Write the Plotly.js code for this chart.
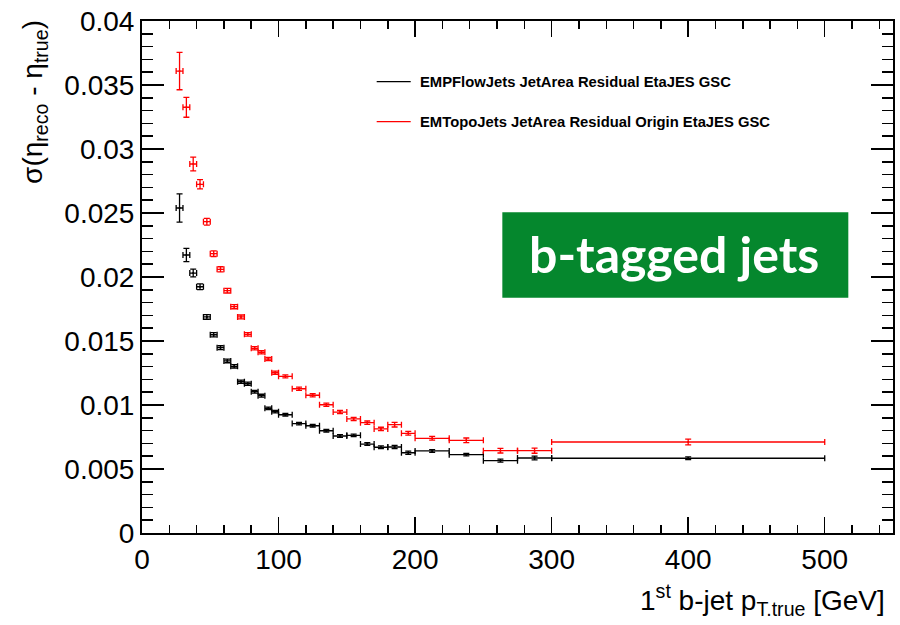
<!DOCTYPE html>
<html>
<head>
<meta charset="utf-8">
<script src="https://cdn.plot.ly/plotly-3.0.1.min.js"></script>
<style>
  html, body { margin: 0; padding: 0; background: #fff; }
  #chart { width: 900px; height: 625px; }
</style>
</head>
<body>
<div id="chart"></div>
<script>
// pT bin edges of the leading b-jet [GeV]
const ptBinEdges = [25, 30, 35, 40, 45, 50, 55, 60, 65, 70, 75, 80, 85, 90, 95, 100,
                    110, 120, 130, 140, 150, 160, 170, 180, 190, 200,
                    225, 250, 275, 300, 500];

// Eta resolution, EMPFlow jets
const pflowSigma = [0.02539, 0.02172, 0.02031, 0.01924, 0.01688, 0.01549, 0.01448, 0.01344,
                    0.01302, 0.01182, 0.01166, 0.01104, 0.01073, 0.00974, 0.00948,
                    0.00924, 0.00855, 0.00838, 0.00799, 0.00758, 0.00763, 0.00695,
                    0.00670, 0.00672, 0.00627,
                    0.00641, 0.00612, 0.00565, 0.00586,
                    0.00584];
const pflowErr = [0.00110, 0.00052, 0.00030, 0.00022, 0.00018, 0.00016, 0.00015, 0.00014,
                  0.00013, 0.00012, 0.00012, 0.00011, 0.00011, 0.00010, 0.00010,
                  0.00010, 0.00010, 0.00010, 0.00010, 0.00010, 0.00010, 0.00010,
                  0.00010, 0.00012, 0.00012,
                  0.00010, 0.00010, 0.00012, 0.00015,
                  0.00010];

// Eta resolution, EMTopo jets
const topoSigma = [0.03609, 0.03326, 0.02883, 0.02724, 0.02432, 0.02182, 0.02060, 0.01893,
                   0.01768, 0.01688, 0.01552, 0.01443, 0.01412, 0.01359, 0.01252,
                   0.01224, 0.01127, 0.01076, 0.01002, 0.00945, 0.00891, 0.00862,
                   0.00813, 0.00846, 0.00779,
                   0.00740, 0.00724, 0.00643, 0.00643,
                   0.00711];
const topoErr = [0.00146, 0.00078, 0.00054, 0.00036, 0.00026, 0.00022, 0.00020, 0.00018,
                 0.00016, 0.00015, 0.00014, 0.00013, 0.00013, 0.00012, 0.00012,
                 0.00012, 0.00012, 0.00012, 0.00012, 0.00012, 0.00013, 0.00013,
                 0.00013, 0.00018, 0.00015,
                 0.00015, 0.00018, 0.00018, 0.00020,
                 0.00022];

const seriesNames = ['EMPFlowJets JetArea Residual EtaJES GSC',
                     'EMTopoJets JetArea Residual Origin EtaJES GSC'];
const seriesColors = ['#000000', '#ff0000'];

const binCenters = [], binHalfWidths = [];
for (let i = 0; i < ptBinEdges.length - 1; i++) {
  binCenters.push((ptBinEdges[i] + ptBinEdges[i + 1]) / 2);
  binHalfWidths.push((ptBinEdges[i + 1] - ptBinEdges[i]) / 2);
}

function profileTrace(y, err, name, color) {
  return {
    type: 'scatter', mode: 'markers', name: name,
    x: binCenters, y: y,
    marker: { color: color, size: 2 },
    error_x: { type: 'data', array: binHalfWidths, visible: true, color: color, thickness: 1.3, width: 3 },
    error_y: { type: 'data', array: err, visible: true, color: color, thickness: 1.3, width: 3 },
    showlegend: false, hoverinfo: 'x+y'
  };
}

const data = [
  profileTrace(pflowSigma, pflowErr, seriesNames[0], seriesColors[0]),
  profileTrace(topoSigma, topoErr, seriesNames[1], seriesColors[1])
];

const FONT = 'Liberation Sans, Arial, Helvetica, sans-serif';

// hand-placed legend in paper coordinates
const legendX0 = 0.3125, legendX1 = 0.3578, legendTextX = 0.3679;
const legendY = [0.8814, 0.8033];

const shapes = [];
const annotations = [];
seriesNames.forEach((nm, i) => {
  shapes.push({ type: 'line', xref: 'paper', yref: 'paper', x0: legendX0, x1: legendX1,
                y0: legendY[i], y1: legendY[i], line: { color: seriesColors[i], width: 1.3 } });
  annotations.push({ xref: 'paper', yref: 'paper', x: legendTextX, y: legendY[i],
                     xanchor: 'left', yanchor: 'middle', showarrow: false, text: nm,
                     font: { family: FONT, size: 14.8, color: '#000', weight: 'bold' } });
});

// category box
shapes.push({ type: 'rect', xref: 'paper', yref: 'paper', x0: 0.4798, x1: 0.9405, y0: 0.4596, y1: 0.6264,
              fillcolor: '#05872d', line: { width: 0 } });
annotations.push({ xref: 'paper', yref: 'paper', x: 0.7084, y: 0.545, xanchor: 'center', yanchor: 'middle',
                   showarrow: false, text: 'b-tagged jets',
                   font: { family: 'Lato, Noto Sans, sans-serif', size: 50, color: '#ffffff', weight: 'bold' } });

// axis titles (ROOT style: right / top aligned)
annotations.push({ xref: 'paper', yref: 'paper', x: 0.992, y: -0.13, xanchor: 'right', yanchor: 'middle',
                   showarrow: false, text: '1<sup>st</sup> b-jet p<sub>T.true</sub> [GeV]',
                   font: { family: FONT, size: 28, color: '#000' } });
annotations.push({ xref: 'paper', yref: 'paper', x: -0.1425, y: 0.842, xanchor: 'center', yanchor: 'middle',
                   textangle: -90, showarrow: false,
                   text: 'σ(η<sub>reco</sub> - η<sub>true</sub>)',
                   font: { family: FONT, size: 28, color: '#000' } });

const layout = {
  width: 900, height: 625,
  margin: { l: 142, r: 7, t: 21, b: 92, pad: 0 },
  paper_bgcolor: '#ffffff', plot_bgcolor: '#ffffff',
  showlegend: false,
  font: { family: FONT, size: 28, color: '#000' },
  xaxis: {
    range: [0, 550], showgrid: false, zeroline: false,
    showline: true, linecolor: '#000', linewidth: 2, mirror: 'allticks',
    ticks: 'inside', ticklen: 16, tickwidth: 1.5, tickcolor: '#000',
    tick0: 0, dtick: 100,
    minor: { ticks: 'inside', ticklen: 8, tickwidth: 1.5, tickcolor: '#000', dtick: 20, showgrid: false },
    tickfont: { family: FONT, size: 28 }
  },
  yaxis: {
    range: [0, 0.04], showgrid: false, zeroline: false,
    showline: true, linecolor: '#000', linewidth: 2, mirror: 'allticks',
    ticks: 'inside', ticklen: 22, tickwidth: 1.5, tickcolor: '#000',
    tick0: 0, dtick: 0.005,
    minor: { ticks: 'inside', ticklen: 11, tickwidth: 1.5, tickcolor: '#000', dtick: 0.001, showgrid: false },
    tickfont: { family: FONT, size: 28 }
  },
  shapes: shapes,
  annotations: annotations
};

Plotly.newPlot('chart', data, layout, { displayModeBar: false, staticPlot: true });
</script>
</body>
</html>
